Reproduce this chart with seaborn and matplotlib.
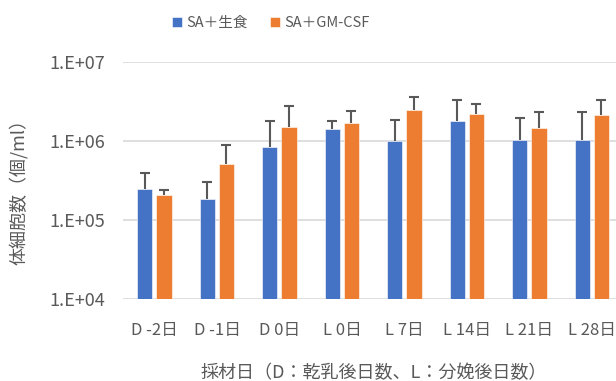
import matplotlib
matplotlib.use("Agg")
import matplotlib.pyplot as plt
import seaborn as sns
import pandas as pd
import numpy as np
from matplotlib.ticker import FixedLocator, NullLocator

# Sampling days and somatic cell counts (cells/ml)
days = ["D -2日", "D -1日", "D 0日", "L 0日", "L 7日", "L 14日", "L 21日", "L 28日"]
series = ["SA＋生食", "SA＋GM-CSF"]
saline_mean = [2.48e5, 1.81e5, 8.4e5, 1.43e6, 1.01e6, 1.77e6, 1.03e6, 1.03e6]
saline_upper = [3.94e5, 2.98e5, 1.80e6, 1.81e6, 1.85e6, 3.31e6, 1.94e6, 2.35e6]
gmcsf_mean = [2.06e5, 5.05e5, 1.52e6, 1.71e6, 2.44e6, 2.22e6, 1.46e6, 2.16e6]
gmcsf_upper = [2.38e5, 8.98e5, 2.78e6, 2.43e6, 3.61e6, 2.91e6, 2.31e6, 3.31e6]
yticks = [1e4, 1e5, 1e6, 1e7]
ytick_labels = ["1.E+04", "1.E+05", "1.E+06", "1.E+07"]

colors = ["#4472C4", "#ED7D31"]
text_color = "#595959"

df = pd.DataFrame({
    "day": days * 2,
    "group": [series[0]] * len(days) + [series[1]] * len(days),
    "count": saline_mean + gmcsf_mean,
})

sns.set_theme(style="white")
plt.rcParams["font.family"] = ["Noto Sans CJK JP", "DejaVu Sans"]

fig = plt.figure(figsize=(6.16, 3.81), dpi=100)
# the plot area runs slightly past the right edge of the figure
ax = fig.add_axes([0.2, 0.2165, 0.8117, 0.6205])

sns.barplot(data=df, x="day", y="count", hue="group", order=days,
            hue_order=series, palette=colors, width=0.61, gap=0.21,
            errorbar=None, ax=ax, saturation=1, edgecolor="white",
            linewidth=0.4, legend=True)
bar_containers = list(ax.containers)

ax.set_yscale("log")
ax.set_ylim(1e4, 1e7)
ax.yaxis.set_major_locator(FixedLocator(yticks))
ax.yaxis.set_minor_locator(NullLocator())
ax.set_yticklabels(ytick_labels)
ax.set_xlim(-0.5, len(days) - 0.5)

# Upward-only error bars: a stem from the bar top and a cap at the upper end
for container, means, uppers in zip(bar_containers, [saline_mean, gmcsf_mean],
                                    [saline_upper, gmcsf_upper]):
    xs = [p.get_x() + p.get_width() / 2 for p in container.patches]
    ax.vlines(xs, means, uppers, colors="#595959", linewidth=1.5, zorder=3)
    ax.plot(xs, uppers, linestyle="none", marker="_", markersize=7,
            markeredgewidth=1.5, color="#595959", zorder=3)

ax.grid(axis="y", color="#D9D9D9", linewidth=1.2)
ax.set_axisbelow(True)
for s in ax.spines.values():
    s.set_visible(False)
ax.tick_params(axis="y", length=0, labelsize=13, colors=text_color, pad=13)
ax.tick_params(axis="x", length=0, labelsize=12, colors=text_color, pad=17)

ax.set_xlabel("採材日（D：乾乳後日数、L：分娩後日数）", fontsize=13,
              color=text_color, labelpad=18)
ax.set_ylabel("体細胞数（個/ml）", fontsize=13, color=text_color)
ax.yaxis.set_label_coords(-0.19, 0.47)

leg = ax.legend(loc="center", bbox_to_anchor=(0.44, 0.94),
                bbox_transform=fig.transFigure, ncol=2, frameon=False,
                fontsize=10.5, handlelength=0.7, handleheight=0.7,
                handletextpad=0.3, columnspacing=1.5)
for t in leg.get_texts():
    t.set_color(text_color)

fig.savefig("out.png", dpi=100)
